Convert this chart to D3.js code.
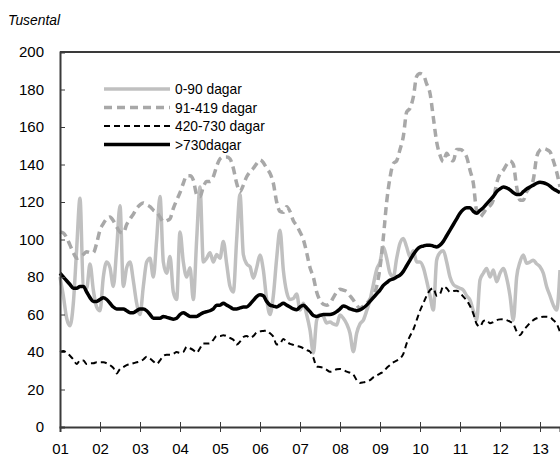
<!DOCTYPE html>
<html>
<head>
<meta charset="utf-8">
<script src="https://cdn.jsdelivr.net/npm/d3@7"></script>
<style>
  body { margin: 0; background: #fff; }
  text { font-family: "Liberation Sans Narrow", "Liberation Sans", sans-serif; fill: #000; }
</style>
</head>
<body>
<div id="chart"></div>
<script>
// year tick labels
var yearLabels = ['01','02','03','04','05','06','07','08','09','10','11','12','13'];
var yTicks = [0, 20, 40, 60, 80, 100, 120, 140, 160, 180, 200];

// monthly values, Jan 2001 - Jul 2013 (tusental)
var dagar0_90 = [
  80, 70, 58, 54, 66, 95, 122, 75, 74, 87, 73, 64,
  62, 80, 88, 85, 75, 95, 118, 75, 85, 88, 78, 66,
  60, 75, 88, 90, 80, 100, 123, 88, 82, 91, 72, 68,
  104, 88, 80, 85, 68, 100, 128, 88, 90, 93, 88, 92,
  90, 99, 87, 75, 72, 100, 124, 92, 87, 85.5, 79.4, 85,
  91.7, 83.7, 68, 60, 70, 90, 105, 83.7, 72, 68, 68.5, 71,
  62.4, 66, 60, 51.7, 39.5, 57, 60, 59, 55.5, 56, 55, 54.4,
  59.7, 58, 55, 50, 40.2, 50, 55, 57, 62, 67.7, 76, 84,
  88, 96, 90, 82, 80, 90, 98, 100.6, 96, 90.8, 94, 88,
  88, 85, 78, 70, 62.4, 89, 93, 94, 88, 80, 76, 74.8,
  74, 73, 70, 67.7, 62, 57, 78.4, 82, 84.6, 80, 83.7, 77.5,
  82, 84.6, 79.4, 70, 57, 80, 88, 91.7, 87.3, 88, 89, 87,
  85.5, 82, 74.8, 70, 65, 62.4, 83.7
];
var dagar91_419 = [
  104, 103.5, 101, 97, 93, 90, 90.5, 92, 93.5, 93, 93, 98,
  105, 108.5, 111, 112, 110, 106.8, 104, 103.5, 108, 111, 113.5, 116.6,
  118.5, 119.5, 118.5, 117.5, 115.7, 114.5, 112, 109.5, 110, 111, 116.6, 121,
  125, 130, 134, 134, 131.7, 124, 122.8, 128, 131, 131, 133.5, 139,
  143, 144, 144, 143, 138, 130, 125.5, 129, 133.5, 136, 138, 140.5,
  142.4, 141, 138, 135.3, 130, 120, 115, 114.5, 117.5, 115, 110, 107.5,
  104, 100, 93, 85, 80, 72, 67.5, 65.5, 65, 66, 69, 72,
  73.5, 73, 72.2, 70, 67.7, 65, 63.3, 64.5, 66, 68, 70, 75,
  85, 101, 120, 133, 140.5, 142, 148, 155, 168, 170, 176, 187,
  188.5, 187.7, 183, 178, 165, 152, 145, 141.5, 146, 143, 142, 148,
  148, 147, 144, 137, 130, 115, 112, 114, 116.6, 118, 121, 130,
  135, 137, 140, 142, 140, 128, 121, 121, 125.5, 128, 132, 144,
  147.7, 148.5, 148, 146.8, 142, 136, 128
];
var dagar420_730 = [
  40, 40.5, 39.5, 38, 36, 33.6, 35.5, 35.5, 33.6, 34, 34, 34.5,
  34.5, 34.5, 34, 33, 31.5, 28.6, 31, 32, 33, 33.5, 34, 34.5,
  35, 36, 37.5, 36.5, 35, 33.6, 35.5, 38, 38.5, 38.5, 39, 40,
  39.5, 40, 42.8, 42, 41, 39.6, 42, 44.6, 44.5, 44.6, 46.5, 48.5,
  48.5, 49, 48.5, 47.5, 46.5, 44, 45.5, 48, 48.5, 47.5, 48.5, 50.5,
  51, 51.2, 51.4, 50, 48.2, 44, 44.5, 46.9, 45.5, 44.3, 43.8, 43.2,
  42.8, 42, 41, 40.2, 37, 32.2, 32, 31.5, 30.5, 29.5, 30, 30.8,
  31, 30.5, 29.5, 29, 28, 25, 23.5, 23.8, 24.2, 25, 26.5, 27.5,
  28.5, 29.5, 31.5, 33, 34.5, 35.4, 36.5, 39, 44.6, 48.5, 52, 57,
  62, 66, 70, 73, 74, 70, 71, 75, 74, 72, 72.5, 72.7,
  71.5, 69.5, 67.5, 64.5, 60.5, 55, 53.5, 56.5, 57, 55.3, 56, 57,
  57.4, 57.5, 57, 56.2, 55, 51, 49, 51.5, 53.5, 55.5, 57, 58,
  58.5, 58.8, 58.8, 58.5, 57, 55, 50.8
];
var dagar730 = [
  82, 80, 78, 76, 74, 74, 75, 75, 72, 69, 67, 67,
  68, 69, 68, 66, 64, 63, 63, 63, 62, 61, 61, 62,
  63, 63, 62, 60, 58, 58, 58, 59, 58.5, 58, 57.5, 58,
  60, 61, 60, 59, 59, 59, 60, 61, 61.5, 62, 63, 65,
  65, 66, 65, 64, 63, 63, 63.5, 64, 64, 65.5, 67.5, 69.5,
  70.5, 70, 67, 65, 64.5, 64, 65, 66, 65, 64, 63, 62.5,
  64, 65, 63.5, 61.5, 59.5, 59, 59.5, 60, 60, 60, 60.5, 61.5,
  63, 64.5, 64, 63, 62.5, 62, 62.5, 63.5, 65, 67, 69, 71,
  73, 75.5, 77, 78.4, 79, 80, 81, 83, 86, 89, 92, 94.5,
  96, 96.5, 97, 97, 96.5, 96, 97, 99, 102, 105, 108, 111,
  114, 116, 117, 117, 115, 114, 115.5, 117, 119, 121, 123, 125.5,
  127, 128, 127.5, 126.5, 125, 124, 124, 125.5, 127, 128, 129, 130,
  130.5, 130.3, 129.6, 128.5, 127, 126, 125
];

var series = [
  { name: '0-90 dagar', values: dagar0_90, color: '#c0c0c0', width: 3.5, dash: null },
  { name: '91-419 dagar', values: dagar91_419, color: '#a8a8a8', width: 3.5, dash: '8,5' },
  { name: '420-730 dagar', values: dagar420_730, color: '#000', width: 2, dash: '6,4' },
  { name: '>730dagar', values: dagar730, color: '#000', width: 3.5, dash: null }
];

var W = 560, H = 457;
var svg = d3.select('#chart').append('svg')
  .attr('width', W).attr('height', H);

var x = d3.scaleLinear().domain([2001, 2013.5]).range([60, 560]);
var y = d3.scaleLinear().domain([0, 200]).range([427, 52]);

svg.append('text')
  .attr('x', 8).attr('y', 25)
  .style('font-size', '15px').style('font-style', 'italic')
  .attr('textLength', 52).attr('lengthAdjust', 'spacingAndGlyphs')
  .text('Tusental');

// lines
var line = d3.line()
  .x(function(d, i) { return x(2001 + i / 12); })
  .y(function(d) { return y(d); })
  .curve(d3.curveMonotoneX);

var plot = svg.append('g');
plot.selectAll('path.series')
  .data(series)
  .enter().append('path')
  .attr('class', 'series')
  .attr('fill', 'none')
  .attr('stroke', function(d) { return d.color; })
  .attr('stroke-width', function(d) { return d.width; })
  .attr('stroke-dasharray', function(d) { return d.dash; })
  .attr('stroke-linejoin', 'round')
  .attr('d', function(d) { return line(d.values); });

// frame: left axis, top border, bottom axis
var axisColor = '#3a3a3a';
svg.append('line').attr('x1', 60).attr('x2', 560).attr('y1', y(200)).attr('y2', y(200))
  .attr('stroke', axisColor).attr('stroke-width', 2);

var yAxis = d3.axisLeft(y).tickValues(yTicks).tickSize(-5).tickPadding(16);
var gy = svg.append('g').attr('transform', 'translate(60,0)').call(yAxis);
gy.select('.domain').attr('stroke', axisColor).attr('stroke-width', 2);
gy.selectAll('.tick line').attr('stroke', axisColor);
gy.selectAll('.tick text').style('font-size', '15px').attr('x', -16);

var xAxis = d3.axisBottom(x)
  .tickValues(d3.range(2001, 2014))
  .tickSize(5)
  .tickFormat(function(d, i) { return yearLabels[i]; });
var gx = svg.append('g').attr('transform', 'translate(0,' + y(0) + ')').call(xAxis);
gx.select('.domain').attr('stroke', axisColor).attr('stroke-width', 2);
gx.selectAll('.tick line').attr('stroke', axisColor).attr('y1', -5).attr('y2', 5);
gx.selectAll('.tick text').style('font-size', '15px').attr('y', 16);

// legend
var legend = svg.append('g').attr('transform', 'translate(104,89)');
var rows = legend.selectAll('g').data(series).enter().append('g')
  .attr('transform', function(d, i) { return 'translate(0,' + (i * 18.5) + ')'; });
rows.append('line')
  .attr('x1', 0).attr('x2', 66)
  .attr('stroke', function(d) { return d.color; })
  .attr('stroke-width', function(d) { return d.width; })
  .attr('stroke-dasharray', function(d) { return d.dash; });
rows.append('text')
  .attr('x', 71).attr('y', 5)
  .style('font-size', '15px')
  .text(function(d) { return d.name; })
  .each(function() {
    // squeeze to the condensed width of the original face
    var w = this.getComputedTextLength();
    d3.select(this).attr('textLength', w * 0.92).attr('lengthAdjust', 'spacingAndGlyphs');
  });
</script>
</body>
</html>
